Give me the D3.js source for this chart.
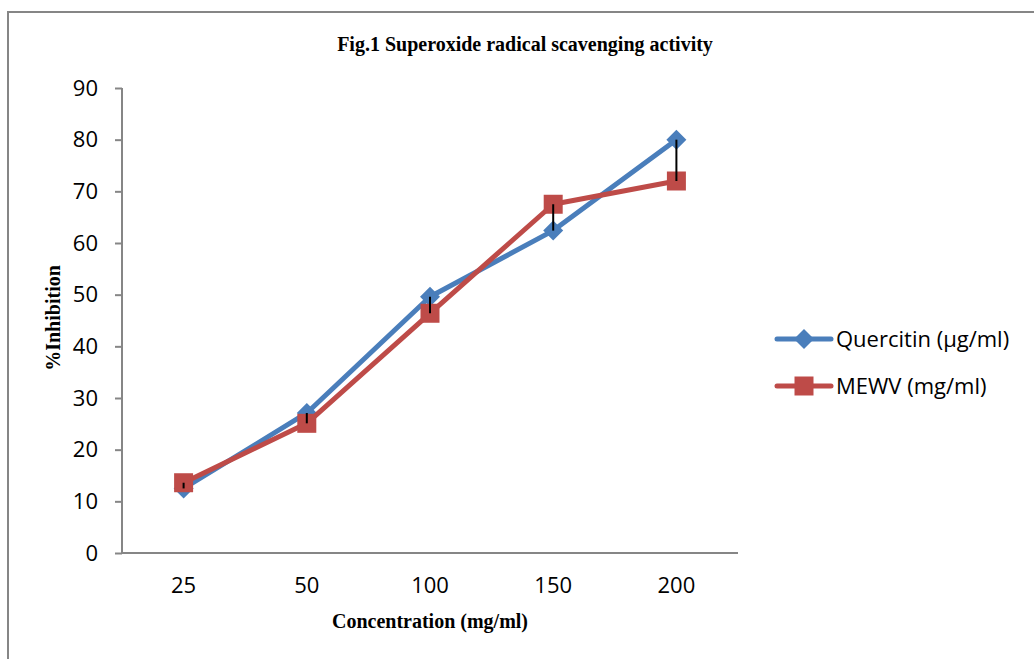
<!DOCTYPE html>
<html>
<head>
<meta charset="utf-8">
<script src="https://cdn.jsdelivr.net/npm/d3@7"></script>
<style>
  body { margin: 0; background: #fff; }
  svg { display: block; }
</style>
</head>
<body>
<svg id="chart"></svg>
<script>
// data
const concentrations = ["25", "50", "100", "150", "200"];
const quercitin = [12.5, 27.1, 49.6, 62.4, 80.0];
const mewv = [13.6, 25.1, 46.4, 67.5, 72.0];
const seriesNames = ["Quercitin (\u00b5g/ml)", "MEWV (mg/ml)"];
const yTicks = [0, 10, 20, 30, 40, 50, 60, 70, 80, 90];

const W = 1034, H = 659;
const margin = { top: 88, right: 296, bottom: 106, left: 122 };
const width = W - margin.left - margin.right;
const height = H - margin.top - margin.bottom;

const blue = "#4a7ebb", red = "#be4b48", axisGray = "#868686";

const svg = d3.select("#chart").attr("width", W).attr("height", H);

// outer frame, runs off the page on the right and bottom
svg.append("rect")
    .attr("x", 8).attr("y", 12)
    .attr("width", W + 20).attr("height", H + 20)
    .attr("fill", "none")
    .attr("stroke", axisGray)
    .attr("stroke-width", 2);

svg.append("text")
    .attr("x", 525).attr("y", 51)
    .attr("text-anchor", "middle")
    .attr("font-family", "Liberation Serif, serif")
    .attr("font-weight", "bold")
    .attr("font-size", 20)
    .text("Fig.1 Superoxide radical scavenging activity");

const g = svg.append("g").attr("transform", `translate(${margin.left},${margin.top})`);

const x = d3.scaleBand().domain(concentrations).range([0, width]);
const y = d3.scaleLinear().domain([0, 90]).range([height, 0]);

// y axis
const yAxis = g.append("g").call(d3.axisLeft(y).tickValues(yTicks).tickSize(7).tickPadding(17));
yAxis.select(".domain").attr("stroke", axisGray).attr("stroke-width", 2).attr("d", `M0,${height}V0`);
yAxis.selectAll(".tick line").attr("stroke", axisGray).attr("stroke-width", 2);
yAxis.selectAll("text")
    .attr("font-family", "Open Sans, sans-serif")
    .attr("font-size", 22)
    .attr("fill", "#000");

// x axis
const xAxis = g.append("g").attr("transform", `translate(0,${height})`)
    .call(d3.axisBottom(x).tickSize(0).tickPadding(24));
xAxis.select(".domain").attr("stroke", axisGray).attr("stroke-width", 2).attr("d", `M0,0H${width}`);
xAxis.selectAll("text")
    .attr("font-family", "Open Sans, sans-serif")
    .attr("font-size", 22)
    .attr("fill", "#000");

// axis titles
svg.append("text")
    .attr("x", 430).attr("y", 628)
    .attr("text-anchor", "middle")
    .attr("font-family", "Liberation Serif, serif")
    .attr("font-weight", "bold")
    .attr("font-size", 20)
    .text("Concentration (mg/ml)");

svg.append("text")
    .attr("transform", "translate(60,318) rotate(-90)")
    .attr("text-anchor", "middle")
    .attr("font-family", "Liberation Serif, serif")
    .attr("font-weight", "bold")
    .attr("font-size", 20)
    .text("%Inhibition");

const cx = d => x(d) + x.bandwidth() / 2;

// high-low lines between the two series
g.selectAll(".hilo")
    .data(concentrations)
    .join("line")
    .attr("class", "hilo")
    .attr("x1", d => cx(d)).attr("x2", d => cx(d))
    .attr("y1", (d, i) => y(Math.max(quercitin[i], mewv[i])))
    .attr("y2", (d, i) => y(Math.min(quercitin[i], mewv[i])))
    .attr("stroke", "#000")
    .attr("stroke-width", 2);

const line = d3.line().x(d => cx(d.c)).y(d => y(d.v));
const series = [
    { name: seriesNames[0], values: quercitin, color: blue, marker: "diamond" },
    { name: seriesNames[1], values: mewv, color: red, marker: "square" }
];

const diamond = s => `M0,${-s}L${s},0L0,${s}L${-s},0Z`;
const square = s => `M${-s},${-s}H${s}V${s}H${-s}Z`;
const markerPath = m => m === "diamond" ? diamond(10) : square(9.5);

series.forEach(s => {
    const pts = concentrations.map((c, i) => ({ c, v: s.values[i] }));
    g.append("path")
        .datum(pts)
        .attr("fill", "none")
        .attr("stroke", s.color)
        .attr("stroke-width", 5)
        .attr("stroke-linejoin", "round")
        .attr("d", line);
    g.selectAll(null)
        .data(pts)
        .join("path")
        .attr("transform", d => `translate(${cx(d.c)},${y(d.v)})`)
        .attr("d", markerPath(s.marker))
        .attr("fill", s.color);
});

// high-low lines sit on top of the markers
g.selectAll(".hilo").raise();

// legend
const legend = svg.append("g").attr("transform", "translate(777,339)");
series.forEach((s, i) => {
    const row = legend.append("g").attr("transform", `translate(0,${i * 47})`);
    row.append("line")
        .attr("x1", 0).attr("x2", 54)
        .attr("stroke", s.color).attr("stroke-width", 5)
        .attr("stroke-linecap", "round");
    row.append("path")
        .attr("transform", "translate(27,0)")
        .attr("d", markerPath(s.marker))
        .attr("fill", s.color);
    row.append("text")
        .attr("x", 59).attr("y", 0)
        .attr("dy", "0.35em")
        .attr("font-family", "Open Sans, sans-serif")
        .attr("font-size", 22)
        .text(s.name);
});
</script>
</body>
</html>
